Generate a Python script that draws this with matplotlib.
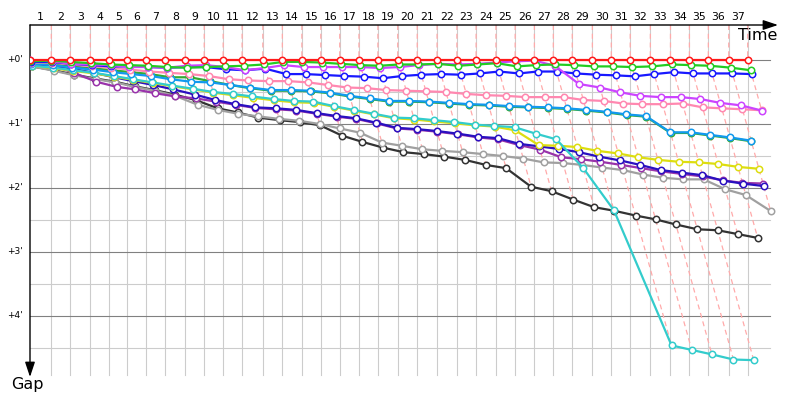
import matplotlib
matplotlib.use('Agg')
import matplotlib.pyplot as plt
import numpy as np

# leader lap times (seconds), lap 1 .. 37
lead_laps = [72, 64, 68, 64, 61, 64, 64, 68, 64, 64, 64, 70, 66, 66, 64, 64, 65, 64, 67, 66,
             67, 67, 65, 67, 65, 65, 64, 64, 68, 64, 64, 68, 68, 64, 64, 69, 64]

# gap to leader (minutes) at lap 0 .. last lap completed
gap_red = [0.0] * 38
gap_green = [0.02, 0.01, 0.03, 0.05, 0.07, 0.08, 0.09, 0.11, 0.12, 0.11, 0.10, 0.09, 0.07, 0.03, 0.03,
             0.04, 0.06, 0.08, 0.09, 0.07, 0.07, 0.06, 0.09, 0.07, 0.05, 0.10, 0.08, 0.07, 0.08, 0.10,
             0.10, 0.11, 0.10, 0.07, 0.08, 0.09, 0.12, 0.16]
gap_violet = [0.0, 0.02, 0.06, 0.07, 0.08, 0.11, 0.11, 0.12, 0.09, 0.08, 0.11, 0.16, 0.125, 0.08, 0.11,
              0.11, 0.11, 0.11, 0.125, 0.11, 0.08, 0.06, 0.07, 0.06, 0.04, 0.02, 0.01, 0.09, 0.375, 0.43,
              0.505, 0.56, 0.58, 0.58, 0.61, 0.67, 0.71, 0.79]
gap_blue = [0.03, 0.03, 0.06, 0.08, 0.10, 0.10, 0.11, 0.12, 0.11, 0.11, 0.145, 0.16, 0.135, 0.22, 0.22,
            0.235, 0.25, 0.26, 0.285, 0.25, 0.23, 0.22, 0.23, 0.21, 0.18, 0.21, 0.18, 0.18, 0.21, 0.23,
            0.24, 0.255, 0.22, 0.19, 0.21, 0.21, 0.21, 0.22]
gap_pink = [0.04, 0.04, 0.07, 0.10, 0.12, 0.15, 0.18, 0.20, 0.22, 0.25, 0.30, 0.32, 0.33, 0.33, 0.35,
            0.39, 0.43, 0.44, 0.47, 0.48, 0.49, 0.50, 0.53, 0.55, 0.56, 0.58, 0.58, 0.58, 0.625, 0.64,
            0.68, 0.69, 0.69, 0.68, 0.74, 0.755, 0.77, 0.785]
gap_ltblue = [0.06, 0.08, 0.12, 0.15, 0.19, 0.22, 0.25, 0.30, 0.34, 0.35, 0.39, 0.43, 0.47, 0.47, 0.48,
              0.51, 0.56, 0.60, 0.64, 0.64, 0.65, 0.67, 0.69, 0.70, 0.72, 0.73, 0.74, 0.755, 0.78, 0.81,
              0.85, 0.875, 1.13, 1.13, 1.17, 1.21, 1.26]
gap_dkgreen = [0.05, 0.07, 0.10, 0.13, 0.16, 0.19, 0.22, 0.27, 0.27, 0.33, 0.39, 0.44, 0.48, 0.48, 0.49,
               0.52, 0.57, 0.61, 0.65, 0.65, 0.66, 0.68, 0.70, 0.71, 0.73, 0.74, 0.75, 0.765, 0.79, 0.82,
               0.86, 0.885, 1.14, 1.14, 1.18, 1.22, 1.27]
gap_turq = [0.09, 0.12, 0.16, 0.20, 0.25, 0.30, 0.35, 0.40, 0.45, 0.50, 0.53, 0.57, 0.61, 0.64, 0.65,
            0.72, 0.78, 0.84, 0.90, 0.91, 0.94, 0.97, 1.01, 1.03, 1.05, 1.15, 1.24, 1.69, 2.35, 4.46,
            4.53, 4.60, 4.68, 4.69]
gap_yellow = [0.09, 0.13, 0.17, 0.21, 0.26, 0.31, 0.36, 0.41, 0.46, 0.51, 0.55, 0.59, 0.63, 0.66, 0.67,
              0.73, 0.79, 0.85, 0.91, 0.93, 0.96, 0.99, 1.02, 1.04, 1.10, 1.33, 1.34, 1.36, 1.42, 1.46,
              1.52, 1.56, 1.59, 1.60, 1.625, 1.67, 1.70]
gap_navy = [0.07, 0.08, 0.14, 0.20, 0.27, 0.33, 0.39, 0.46, 0.54, 0.625, 0.69, 0.74, 0.755, 0.78, 0.83,
            0.875, 0.91, 0.98, 1.06, 1.08, 1.11, 1.15, 1.20, 1.22, 1.31, 1.35, 1.39, 1.44, 1.51, 1.57,
            1.64, 1.72, 1.76, 1.80, 1.885, 1.93, 1.97]
gap_purple = [0.05, 0.09, 0.20, 0.34, 0.42, 0.46, 0.52, 0.57, 0.60, 0.65, 0.70, 0.75, 0.77, 0.79, 0.84,
              0.885, 0.92, 0.99, 1.07, 1.09, 1.12, 1.16, 1.21, 1.24, 1.33, 1.40, 1.52, 1.55, 1.59, 1.64,
              1.69, 1.74, 1.78, 1.82, 1.88, 1.92, 1.93]
gap_grey = [0.10, 0.17, 0.24, 0.30, 0.35, 0.42, 0.48, 0.56, 0.70, 0.78, 0.84, 0.88, 0.92, 0.95, 1.00,
            1.07, 1.135, 1.29, 1.34, 1.395, 1.42, 1.44, 1.47, 1.50, 1.54, 1.60, 1.61, 1.64, 1.68, 1.72,
            1.79, 1.84, 1.865, 1.865, 2.02, 2.11, 2.36]
gap_black = [0.10, 0.16, 0.23, 0.29, 0.34, 0.41, 0.47, 0.54, 0.63, 0.755, 0.82, 0.90, 0.94, 0.97, 1.02,
             1.18, 1.28, 1.37, 1.44, 1.47, 1.51, 1.56, 1.64, 1.69, 1.98, 2.05, 2.18, 2.30, 2.355, 2.43,
             2.49, 2.57, 2.645, 2.66, 2.72, 2.78]

# drawing order, bottom first
series = [
    (gap_black, '#333333'),
    (gap_grey, '#a0a0a0'),
    (gap_purple, '#9933aa'),
    (gap_navy, '#2a10c0'),
    (gap_yellow, '#dddd10'),
    (gap_turq, '#33cccc'),
    (gap_dkgreen, '#33aa33'),
    (gap_ltblue, '#1199ee'),
    (gap_pink, '#ff88b0'),
    (gap_blue, '#1818ff'),
    (gap_violet, '#cc44ff'),
    (gap_green, '#22cc22'),
    (gap_red, '#ff1a1a'),
]

t_lead = np.concatenate([[0.0], np.cumsum(lead_laps) / 60.0])  # minutes

PXM = 17.75  # pixels per minute on the time axis
fig = plt.figure(figsize=(8, 4), dpi=100)
ax = fig.add_axes([30 / 800, 10 / 400, 760 / 800, 365 / 400])
ytop = -35 / 64
ybot = 330 / 64
ax.set_xlim(0, 760 / PXM)
ax.set_ylim(ybot, ytop)
ax.axis('off')

xmax_grid = 740 / PXM
yend_grid = 315 / 64

# grid
for n in range(1, len(t_lead)):
    ax.plot([t_lead[n], t_lead[n]], [ytop, yend_grid], color='#cccccc', lw=0.8, zorder=1)
for g in np.arange(0.5, 5, 1.0):
    ax.plot([0, xmax_grid], [g, g], color='#cccccc', lw=0.8, zorder=1)
for g in range(0, 5):
    ax.plot([0, xmax_grid], [g, g], color='#808080', lw=0.8, zorder=1.1)
    ax.text(-7 / PXM, g, "+%d'" % g, ha='right', va='center', fontsize=6.5, clip_on=False)

# dashed "same lap" lines
gaps_all = [s[0] for s in series]
for n in range(1, len(t_lead)):
    gmax = max(gs[n] for gs in gaps_all if len(gs) > n)
    ax.plot([t_lead[n], t_lead[n], t_lead[n] + gmax], [ytop, 0, gmax],
            color='#ffaaaa', lw=0.9, ls=(0, (4, 3)), zorder=2)

# series
for i, (gaps, col) in enumerate(series):
    gaps = np.array(gaps)
    xs = t_lead[:len(gaps)] + gaps
    ax.plot(xs, gaps, color=col, lw=1.6, marker='o', ms=4.6, mfc='white', mec=col, mew=1.1,
            zorder=3 + i * 0.1)

# lap numbers
for n in range(1, len(t_lead)):
    ax.text((t_lead[n - 1] + t_lead[n]) / 2, -43 / 64, str(n), ha='center', va='center',
            fontsize=7.8, clip_on=False)

# axes arrows
ax.annotate('', xy=(748 / PXM, ytop), xytext=(0, ytop), annotation_clip=False,
            arrowprops=dict(arrowstyle='-|>,head_length=0.9,head_width=0.3', color='black',
                            lw=1.0, shrinkA=0, shrinkB=0, mutation_scale=10))
ax.annotate('', xy=(0, 317 / 64), xytext=(0, ytop), annotation_clip=False,
            arrowprops=dict(arrowstyle='-|>,head_length=0.9,head_width=0.3', color='black',
                            lw=1.0, shrinkA=0, shrinkB=0, mutation_scale=10))
ax.text(747 / PXM, -24 / 64, 'Time', ha='right', va='center', fontsize=11.5, clip_on=False)
ax.text(-19 / PXM, 325 / 64, 'Gap', ha='left', va='center', fontsize=11.5, clip_on=False)

fig.savefig('out.png', dpi=100)
